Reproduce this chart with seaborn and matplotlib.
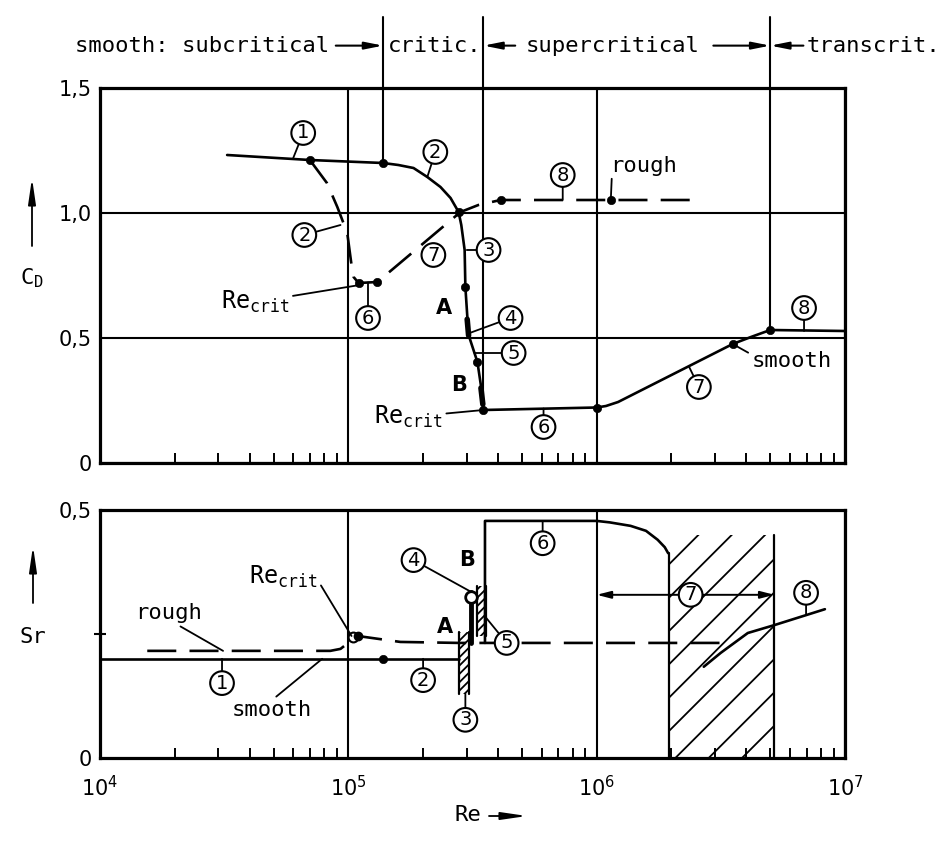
import matplotlib
matplotlib.use("Agg")
import matplotlib.pyplot as plt
from matplotlib.patches import FancyArrowPatch
from matplotlib.ticker import FixedLocator, NullFormatter, FixedFormatter
import seaborn as sns

# ---------------- data ----------------
# upper panel: drag coefficient C_D over Re
cd_smooth_re = [3.25e4, 7.0e4, 1.38e5, 1.59e5, 1.83e5, 2.08e5, 2.35e5, 2.58e5, 2.78e5,
                2.85e5, 2.94e5, 2.96e5, 3.02e5, 3.05e5, 3.31e5, 3.44e5, 3.5e5,
                1.0e6, 1.09e6, 1.22e6, 3.53e6, 4.18e6, 5.0e6, 1.0e7]
cd_smooth = [1.232, 1.212, 1.20, 1.192, 1.18, 1.144, 1.104, 1.06, 1.004,
             0.952, 0.852, 0.704, 0.572, 0.512, 0.404, 0.292, 0.212,
             0.222, 0.228, 0.244, 0.476, 0.504, 0.532, 0.528]
cd_smooth_mark_re = [7.0e4, 1.38e5, 2.78e5, 2.96e5, 3.31e5, 3.5e5, 1.0e6, 3.53e6, 5.0e6]
cd_smooth_mark = [1.212, 1.20, 1.004, 0.704, 0.404, 0.212, 0.222, 0.476, 0.532]
cd_thick_a_re = [3.01e5, 3.05e5]
cd_thick_a = [0.575, 0.51]
cd_thick_b_re = [3.42e5, 3.48e5]
cd_thick_b = [0.30, 0.235]

cd_rough_re = [7.0e4, 8.2e4, 9.03e4, 9.9e4, 1.03e5, 1.05e5, 1.10e5, 1.31e5,
               2.83e5, 3.34e5, 4.1e5, 1.14e6, 2.46e6]
cd_rough = [1.212, 1.12, 1.024, 0.92, 0.792, 0.744, 0.72, 0.724,
            1.004, 1.032, 1.052, 1.052, 1.052]
cd_rough_mark_re = [1.10e5, 1.31e5, 4.1e5, 1.14e6]
cd_rough_mark = [0.72, 0.724, 1.052, 1.052]

# regime borders (Re where the boundary lines start on the curve)
border_re = [1.38e5, 3.5e5, 5.0e6]
border_cd = [1.20, 0.212, 0.532]

# lower panel: Strouhal number Sr over Re
sr_smooth_re = [1.0e4, 1.38e5, 2.8e5]
sr_smooth = [0.2, 0.2, 0.2]
sr_smooth_mark_re = [1.38e5]
sr_smooth_mark = [0.2]

sr_rough_re = [1.55e4, 8.46e4, 9.3e4, 9.75e4, 1.04e5, 1.09e5, 1.62e5, 2.8e5, 3.25e6]
sr_rough = [0.216, 0.216, 0.22, 0.228, 0.244, 0.246, 0.234, 0.232, 0.232]

sr_super_re = [3.55e5, 3.55e5, 1.0e6, 1.13e6, 1.37e6, 1.58e6, 1.76e6, 1.88e6, 1.94e6]
sr_super = [0.232, 0.478, 0.478, 0.475, 0.468, 0.458, 0.44, 0.425, 0.413]

sr_jump_re = [3.12e5, 3.12e5]
sr_jump = [0.232, 0.335]

sr_trans_re = [2.7e6, 3.16e6, 4.06e6, 5.2e6, 8.3e6]
sr_trans = [0.184, 0.212, 0.252, 0.268, 0.30]

strip3_re = [2.78e5, 3.05e5]
strip3_sr = [0.13, 0.255]
strip45_re = [3.3e5, 3.6e5]
strip45_sr = [0.245, 0.346]
scatter_re = [1.95e6, 5.2e6]
scatter_sr = [0.0, 0.45]
range7_re = [1.0e6, 5.2e6]
range7_sr = 0.329

# ---------------- styling ----------------
sns.set_theme(style="white")
K = "black"
plt.rcParams["font.family"] = ["DejaVu Sans Mono", "DejaVu Sans"]
plt.rcParams["mathtext.fontset"] = "dejavusans"
plt.rcParams["hatch.linewidth"] = 1.3
plt.rcParams["hatch.color"] = K
for key in ("text.color", "axes.labelcolor", "xtick.color", "ytick.color",
            "axes.edgecolor"):
    plt.rcParams[key] = K

W, H = 953, 847
fig = plt.figure(figsize=(W / 100, H / 100), dpi=100)
fig.patch.set_facecolor("white")
ax1 = fig.add_axes([100 / W, 1 - 463 / H, 745 / W, 375 / H])
ax2 = fig.add_axes([100 / W, 1 - 758 / H, 745 / W, 248 / H])

LW = 1.9
DASH = (0, (11, 5))

for ax in (ax1, ax2):
    ax.set_facecolor("white")
    ax.set_xscale("log")
    ax.set_xlim(1e4, 1e7)
    ax.xaxis.set_major_locator(FixedLocator([1e4, 1e5, 1e6, 1e7]))
    ax.xaxis.set_minor_locator(FixedLocator(
        [m * 10 ** e for e in (4, 5, 6) for m in range(2, 10)]))
    ax.xaxis.set_minor_formatter(NullFormatter())
    ax.tick_params(axis="x", which="minor", direction="in", length=7, width=1.4,
                   bottom=True, top=False, color=K)
    ax.tick_params(axis="x", which="major", length=0, color=K, labelcolor=K)
    ax.tick_params(axis="y", which="major", length=0, pad=6, labelsize=15,
                   colors=K)
    for s in ax.spines.values():
        s.set_linewidth(2.3)
        s.set_color(K)
    ax.grid(True, axis="x", which="major", color=K, lw=1.5)
    ax.set_axisbelow(True)
    for t in ax.get_yticklabels():
        t.set_family("DejaVu Sans")

# upper panel
ax1.set_ylim(0, 1.5)
ax1.set_yticks([0, 0.5, 1.0, 1.5])
ax1.set_yticklabels(["0", "0,5", "1,0", "1,5"], family="DejaVu Sans")
ax1.grid(True, axis="y", which="major", color=K, lw=1.5)
ax1.xaxis.set_major_formatter(NullFormatter())

# lower panel
ax2.set_ylim(0, 0.5)
ax2.set_yticks([0, 0.5])
ax2.set_yticklabels(["0", "0,5"], family="DejaVu Sans")
ax2.yaxis.set_minor_locator(FixedLocator([0.25]))
ax2.tick_params(axis="y", which="minor", direction="inout", length=9, width=1.5,
                left=True, color=K)
ax2.xaxis.set_major_formatter(FixedFormatter(
    [r"$10^{4}$", r"$10^{5}$", r"$10^{6}$", r"$10^{7}$"]))
ax2.tick_params(axis="x", which="major", labelsize=15, pad=12)

# ---------------- curves ----------------
common = dict(color=K, estimator=None, sort=False, legend=False)
sns.lineplot(x=cd_smooth_re, y=cd_smooth, ax=ax1, lw=LW, zorder=4, **common)
sns.lineplot(x=cd_thick_a_re, y=cd_thick_a, ax=ax1, lw=4, zorder=4, **common)
sns.lineplot(x=cd_thick_b_re, y=cd_thick_b, ax=ax1, lw=4, zorder=4, **common)
sns.lineplot(x=cd_rough_re, y=cd_rough, ax=ax1, lw=LW, ls=DASH, zorder=4, **common)
sns.scatterplot(x=cd_smooth_mark_re, y=cd_smooth_mark, ax=ax1, color=K, s=36,
                edgecolor=K, zorder=5, legend=False)
sns.scatterplot(x=cd_rough_mark_re, y=cd_rough_mark, ax=ax1, color=K, s=36,
                edgecolor=K, zorder=5, legend=False)

# regime borders reaching above the plot
tr1 = ax1.get_xaxis_transform()
for re_b, cd_b in zip(border_re, border_cd):
    ax1.plot([re_b, re_b], [cd_b / 1.5, 1.19], transform=tr1, color=K, lw=1.5,
             clip_on=False, zorder=3)

# lower panel
sns.lineplot(x=sr_smooth_re, y=sr_smooth, ax=ax2, lw=LW, zorder=4, **common)
sns.scatterplot(x=sr_smooth_mark_re, y=sr_smooth_mark, ax=ax2, color=K, s=36,
                edgecolor=K, zorder=5, legend=False)
sns.lineplot(x=sr_rough_re, y=sr_rough, ax=ax2, lw=LW, ls=DASH, zorder=4, **common)
ax2.scatter([sr_rough_re[4]], [sr_rough[4]], s=50, facecolor="white", edgecolor=K,
            lw=1.5, zorder=6)
ax2.scatter([sr_rough_re[5]], [sr_rough[5]], s=36, color=K, zorder=6)
sns.lineplot(x=sr_super_re, y=sr_super, ax=ax2, lw=LW, zorder=4, **common)
sns.lineplot(x=sr_jump_re, y=sr_jump, ax=ax2, lw=3.5, zorder=4, **common)
ax2.scatter([sr_jump_re[1]], [sr_jump[1] - 0.01], s=70, marker="o",
            facecolor="white", edgecolor=K, lw=2, zorder=6)
sns.lineplot(x=sr_trans_re, y=sr_trans, ax=ax2, lw=LW, zorder=4, **common)

for (r0, r1), (s0, s1), hatch in ((strip3_re, strip3_sr, "////"),
                                  (strip45_re, strip45_sr, "////"),
                                  (scatter_re, scatter_sr, "/")):
    ax2.fill_between([r0, r1], [s0, s0], [s1, s1], facecolor="none",
                     edgecolor=K, hatch=hatch, lw=0, zorder=2)
    ax2.plot([r0, r0], [s0, s1 if hatch != "/" else sr_super[-1]], color=K,
             lw=1.6, zorder=3)
    ax2.plot([r1, r1], [s0, s1], color=K, lw=1.6, zorder=3)

ax2.annotate("", xy=(range7_re[0], range7_sr), xytext=(range7_re[1], range7_sr),
             arrowprops=dict(arrowstyle="<|-|>,head_length=0.7,head_width=0.18",
                             color=K, lw=1.4, shrinkA=0, shrinkB=0), zorder=4)

# ---------------- annotations ----------------
CIRC = dict(ha="center", va="center", fontsize=14, family="DejaVu Sans", color=K,
            bbox=dict(boxstyle="circle,pad=0.12", fc="white", ec=K, lw=1.5),
            zorder=7)
LEAD = dict(arrowstyle="-", color=K, lw=1.3, shrinkA=0, shrinkB=0)


def circled(ax, label, xytext, xy=None):
    if xy is None:
        ax.text(xytext[0], xytext[1], label, **CIRC)
    else:
        ax.annotate(label, xy=xy, xytext=xytext, arrowprops=LEAD, **CIRC)


def note(ax, label, xytext, xy, fs=16, ha="center", relpos=(0.5, 0.5)):
    lead = dict(LEAD)
    lead["relpos"] = relpos
    ax.annotate(label, xy=xy, xytext=xytext, ha=ha, va="center", fontsize=fs,
                color=K, arrowprops=lead, zorder=7)


def letter(ax, label, xy):
    ax.text(xy[0], xy[1], label, fontsize=15, family="DejaVu Sans", ha="center",
            va="center", fontweight="bold", color=K)


RECRIT = r"$\mathtt{Re}_{\mathtt{crit}}$"

circled(ax1, "1", (6.58e4, 1.32), (6.0e4, 1.22))
circled(ax1, "2", (2.24e5, 1.244), (2.08e5, 1.144))
circled(ax1, "2", (6.65e4, 0.912), (9.3e4, 0.952))
circled(ax1, "7", (2.2e5, 0.832))
circled(ax1, "3", (3.67e5, 0.852), (3.0e5, 0.852))
circled(ax1, "6", (1.2e5, 0.58), (1.2e5, 0.722))
circled(ax1, "4", (4.5e5, 0.58), (3.08e5, 0.52))
circled(ax1, "5", (4.63e5, 0.44), (3.22e5, 0.44))
circled(ax1, "6", (6.11e5, 0.144), (6.11e5, 0.218))
circled(ax1, "8", (7.3e5, 1.152), (7.3e5, 1.052))
circled(ax1, "7", (2.58e6, 0.304), (2.35e6, 0.387))
circled(ax1, "8", (6.84e6, 0.62), (6.84e6, 0.528))
letter(ax1, "A", (2.42e5, 0.62))
letter(ax1, "B", (2.78e5, 0.312))
note(ax1, RECRIT, (4.22e4, 0.644), (1.08e5, 0.71), fs=17)
note(ax1, RECRIT, (1.75e5, 0.184), (3.5e5, 0.212), fs=17)
note(ax1, "rough", (1.13e6, 1.19), (1.14e6, 1.052), ha="left", relpos=(0.03, 0.0))
note(ax1, "smooth", (4.2e6, 0.41), (3.53e6, 0.476), ha="left", relpos=(0.0, 0.8))

note(ax2, "rough", (1.88e4, 0.292), (3.13e4, 0.216), relpos=(0.6, 0.0))
circled(ax2, "1", (3.1e4, 0.151), (3.1e4, 0.2))
note(ax2, "smooth", (4.94e4, 0.097), (7.85e4, 0.2), relpos=(0.5, 1.0))
note(ax2, RECRIT, (5.47e4, 0.365), (1.03e5, 0.246), fs=17, relpos=(0.95, 0.6))
circled(ax2, "2", (2.0e5, 0.157), (2.0e5, 0.2))
letter(ax2, "A", (2.46e5, 0.264))
circled(ax2, "3", (2.96e5, 0.077), (2.96e5, 0.13))
circled(ax2, "4", (1.83e5, 0.399), (3.12e5, 0.335))
letter(ax2, "B", (3.02e5, 0.399))
circled(ax2, "5", (4.34e5, 0.232), (3.57e5, 0.284))
circled(ax2, "6", (6.06e5, 0.433), (6.06e5, 0.478))
circled(ax2, "7", (2.39e6, range7_sr))
circled(ax2, "8", (6.97e6, 0.333), (6.97e6, 0.288))

# regime header above the upper panel
HY = 1.113
HDR = dict(fontsize=16, va="center", transform=tr1, clip_on=False, color=K)
ARW = dict(arrowstyle="-|>,head_length=0.9,head_width=0.18", color=K, lw=1.5,
           shrinkA=0, shrinkB=0)
ax1.text(8.4e4, HY, "smooth: subcritical", ha="right", **HDR)
ax1.text(1.44e5, HY, "critic.", ha="left", **HDR)
ax1.text(5.2e5, HY, "supercritical", ha="left", **HDR)
ax1.text(7.0e6, HY, "transcrit.", ha="left", **HDR)
for x0, x1 in ((8.9e4, border_re[0]), (4.7e5, border_re[1]),
               (2.95e6, border_re[2]), (6.8e6, border_re[2])):
    ax1.annotate("", xy=(x1, HY), xytext=(x0, HY), xycoords=tr1, textcoords=tr1,
                 arrowprops=ARW, annotation_clip=False)

# axis titles with arrows
fig.text(32 / W, 1 - 278 / H, r"$\mathtt{C}_{\mathtt{D}}$", fontsize=16,
         ha="center", va="center", color=K)
fig.text(33 / W, 1 - 637 / H, "Sr", fontsize=16, ha="center", va="center", color=K)
fig.text(468 / W, 1 - 815 / H, "Re", fontsize=16, ha="center", va="center", color=K)
FA = dict(arrowstyle="-|>,head_length=1.1,head_width=0.16", color=K, lw=1.3,
          shrinkA=0, shrinkB=0, mutation_scale=14)
for p0, p1 in (((32, 246), (32, 178)), ((33, 603), (33, 546)),
               ((489, 816), (527, 816))):
    fig.add_artist(FancyArrowPatch((p0[0] / W, 1 - p0[1] / H),
                                   (p1[0] / W, 1 - p1[1] / H),
                                   transform=fig.transFigure, **FA))

fig.savefig("out.png", dpi=100, facecolor="white")
